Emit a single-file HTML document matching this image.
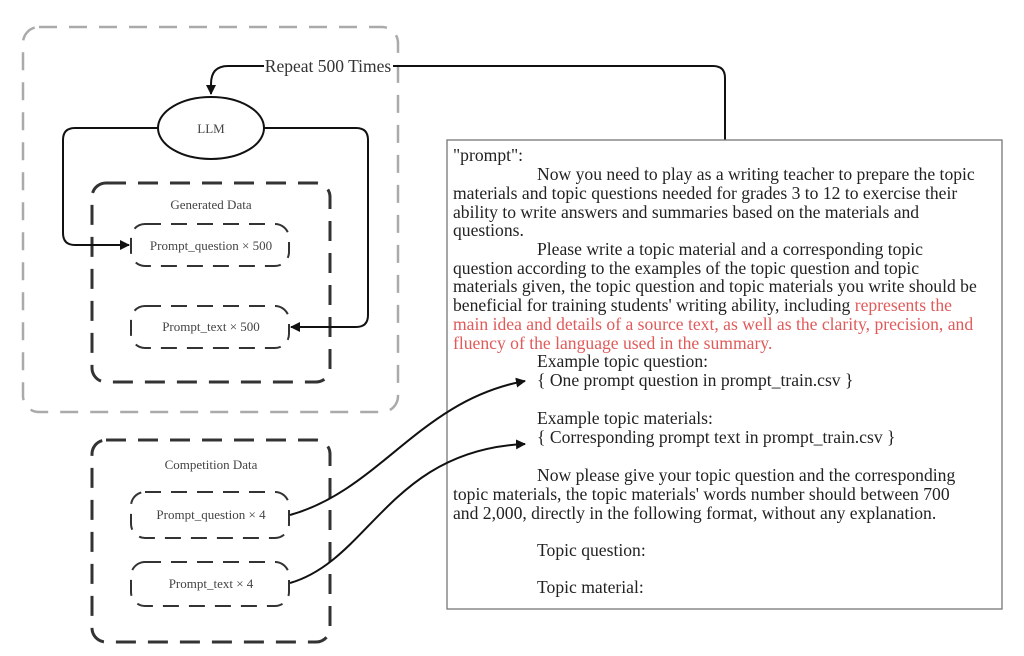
<!DOCTYPE html>
<html><head><meta charset="utf-8"><style>
body{margin:0;width:1024px;height:656px;background:#fff;overflow:hidden;position:relative;font-family:"Liberation Serif",serif}
.t{position:absolute;font-size:17.6px;color:#222;white-space:nowrap;line-height:19px}
.r{color:#e05a5a}
</style></head><body>
<svg width="1024" height="656" style="position:absolute;left:0;top:0">
<defs><marker id="a" markerWidth="10" markerHeight="10" refX="9" refY="5" orient="auto" markerUnits="userSpaceOnUse"><path d="M0,0 L10,5 L0,10z" fill="#111"/></marker></defs>
<g fill="none">
<rect x="23" y="27" width="375" height="385" rx="16" stroke="#aaa" stroke-width="2.5" stroke-dasharray="18,12"/>
<rect x="92" y="183" width="238" height="199" rx="14" stroke="#333" stroke-width="3" stroke-dasharray="20,12"/>
<rect x="131" y="224" width="158" height="42" rx="14" stroke="#333" stroke-width="2" stroke-dasharray="16,10"/>
<rect x="131" y="306" width="158" height="42" rx="14" stroke="#333" stroke-width="2" stroke-dasharray="16,10"/>
<rect x="92" y="440" width="238" height="202" rx="14" stroke="#333" stroke-width="3" stroke-dasharray="20,12"/>
<rect x="131" y="492" width="158" height="46" rx="14" stroke="#333" stroke-width="2" stroke-dasharray="16,10"/>
<rect x="131" y="562" width="158" height="44" rx="14" stroke="#333" stroke-width="2" stroke-dasharray="16,10"/>
<ellipse cx="211" cy="128" rx="53" ry="31" stroke="#111" stroke-width="2" fill="#fff"/>
<path d="M158,128 H75 Q63,128 63,140 V233 Q63,245 75,245 H129" stroke="#111" stroke-width="2" marker-end="url(#a)"/>
<path d="M264,128 H356 Q368,128 368,140 V315 Q368,327 356,327 H291" stroke="#111" stroke-width="2" marker-end="url(#a)"/>
<path d="M725,140 V78 Q725,66 713,66 H393" stroke="#111" stroke-width="2"/>
<path d="M264,66 H228 Q211,66 211,84 V94" stroke="#111" stroke-width="2" marker-end="url(#a)"/>
<rect x="447" y="140" width="555" height="469" stroke="#777" stroke-width="1.3"/>
<path d="M290,515 C380,490 420,400 525,381" stroke="#111" stroke-width="2" marker-end="url(#a)"/>
<path d="M290,583 C370,560 390,450 525,444" stroke="#111" stroke-width="2" marker-end="url(#a)"/>
</g>
<g font-family="Liberation Serif,serif" fill="#444" text-anchor="middle">
<text x="211" y="133" font-size="13">LLM</text>
<text x="211" y="209" font-size="13">Generated Data</text>
<text x="211" y="250" font-size="13">Prompt_question × 500</text>
<text x="211" y="331" font-size="13">Prompt_text × 500</text>
<text x="211" y="469" font-size="13">Competition Data</text>
<text x="211" y="519" font-size="13">Prompt_question × 4</text>
<text x="211" y="588" font-size="13">Prompt_text × 4</text>
<text x="328" y="72" font-size="17.5" fill="#333">Repeat 500 Times</text>
</g>
</svg>
<div class="t" style="left:453px;top:146px">"prompt":</div>
<div class="t" style="left:537px;top:165px">Now you need to play as a writing teacher to prepare the topic</div>
<div class="t" style="left:453px;top:184px">materials and topic questions needed for grades 3 to 12 to exercise their</div>
<div class="t" style="left:453px;top:203px">ability to write answers and summaries based on the materials and</div>
<div class="t" style="left:453px;top:221px">questions.</div>
<div class="t" style="left:537px;top:240px">Please write a topic material and a corresponding topic</div>
<div class="t" style="left:453px;top:259px">question according to the examples of the topic question and topic</div>
<div class="t" style="left:453px;top:277px">materials given, the topic question and topic materials you write should be</div>
<div class="t" style="left:453px;top:296px">beneficial for training students' writing ability, including <span class="r">represents the</span></div>
<div class="t r" style="left:453px;top:315px">main idea and details of a source text, as well as the clarity, precision, and</div>
<div class="t r" style="left:453px;top:334px">fluency of the language used in the summary.</div>
<div class="t" style="left:537px;top:352px">Example topic question:</div>
<div class="t" style="left:537px;top:371px">{ One prompt question in prompt_train.csv }</div>
<div class="t" style="left:537px;top:409px">Example topic materials:</div>
<div class="t" style="left:537px;top:428px">{ Corresponding prompt text in prompt_train.csv }</div>
<div class="t" style="left:537px;top:466px">Now please give your topic question and the corresponding</div>
<div class="t" style="left:453px;top:485px">topic materials, the topic materials' words number should between 700</div>
<div class="t" style="left:453px;top:504px">and 2,000, directly in the following format, without any explanation.</div>
<div class="t" style="left:537px;top:541px">Topic question:</div>
<div class="t" style="left:537px;top:578px">Topic material:</div>
</body></html>
